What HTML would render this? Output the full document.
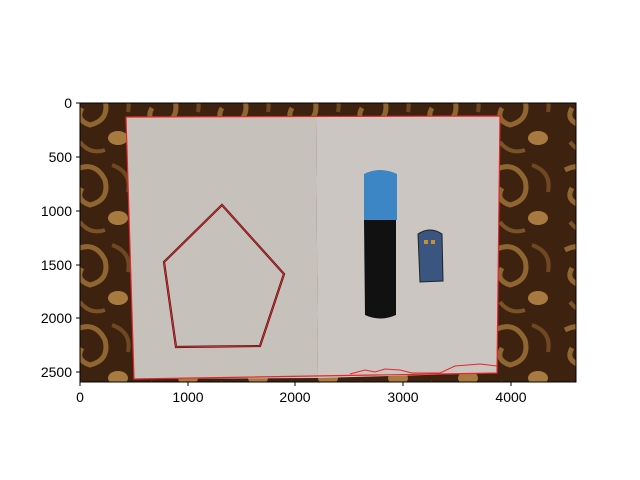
<!DOCTYPE html>
<html><head><meta charset="utf-8"><style>
body{margin:0;background:#fff;}
svg{display:block;font-family:"Liberation Sans","DejaVu Sans",sans-serif;}
</style></head><body>
<svg width="640" height="480" viewBox="0 0 640 480">
<defs>
<clipPath id="ax"><rect x="80" y="103" width="496" height="279"/></clipPath>
<pattern id="carpet" width="70" height="80" patternUnits="userSpaceOnUse">
<rect width="70" height="80" fill="#3e2210"/>
<path d="M5 10 Q25 0 35 20 Q40 40 20 45 Q5 40 12 28" fill="none" stroke="#8f6532" stroke-width="5"/>
<ellipse cx="48" cy="58" rx="10" ry="7" fill="#a77a40"/>
<path d="M42 5 Q62 12 58 32" fill="none" stroke="#6e4820" stroke-width="4"/>
<path d="M10 62 Q20 75 35 70" fill="none" stroke="#7a5428" stroke-width="4"/>
</pattern>
</defs>
<g clip-path="url(#ax)">
<rect x="80" y="103" width="496" height="279" fill="url(#carpet)"/>
<polygon points="126,117 316,117 318,378 134,379" fill="#c6c1bb"/>
<polygon points="316,117 500,116 497,373 318,378" fill="#cbc6c1"/>
<polygon points="126,117 500,116 497,373 134,379" fill="none" stroke="#e8262a" stroke-width="1.2"/>
<polyline points="350,374 365,370 375,372 385,369 400,370 412,373 440,373 455,366 480,364 497,366" fill="none" stroke="#e8262a" stroke-width="1"/>
<polygon points="222,205 284,274 260,346 176,347 164,262" fill="none" stroke="#3a1414" stroke-width="2.2"/>
<polygon points="222,205 284,274 260,346 176,347 164,262" fill="none" stroke="#e8262a" stroke-width="1"/>
<path d="M364,174 Q380,166 397,174 L397,220 L364,220 Z" fill="#3d86c6"/>
<path d="M364,220 L396,220 L396,315 Q380,322 365,315 Z" fill="#111"/>
<path d="M418,234 Q430,226 442,234 L443,281 L420,282 Z" fill="#3a5680" stroke="#222" stroke-width="1"/>
<rect x="424" y="240" width="4" height="4" fill="#c89030"/><rect x="431" y="240" width="4" height="4" fill="#c89030"/>
</g>
<rect x="80" y="103" width="496" height="279" fill="none" stroke="#000" stroke-width="1"/>
<g font-size="14" fill="#000">
<line x1="80" y1="382" x2="80" y2="386" stroke="#000"/><text x="80" y="402" text-anchor="middle">0</text>
<line x1="188" y1="382" x2="188" y2="386" stroke="#000"/><text x="188" y="402" text-anchor="middle">1000</text>
<line x1="295" y1="382" x2="295" y2="386" stroke="#000"/><text x="295" y="402" text-anchor="middle">2000</text>
<line x1="403" y1="382" x2="403" y2="386" stroke="#000"/><text x="403" y="402" text-anchor="middle">3000</text>
<line x1="511" y1="382" x2="511" y2="386" stroke="#000"/><text x="511" y="402" text-anchor="middle">4000</text>
</g>
<g font-size="14" fill="#000" text-anchor="end">
<line x1="76" y1="103" x2="80" y2="103" stroke="#000"/><text x="72" y="108">0</text>
<line x1="76" y1="157" x2="80" y2="157" stroke="#000"/><text x="72" y="162">500</text>
<line x1="76" y1="211" x2="80" y2="211" stroke="#000"/><text x="72" y="216">1000</text>
<line x1="76" y1="265" x2="80" y2="265" stroke="#000"/><text x="72" y="270">1500</text>
<line x1="76" y1="318" x2="80" y2="318" stroke="#000"/><text x="72" y="323">2000</text>
<line x1="76" y1="372" x2="80" y2="372" stroke="#000"/><text x="72" y="377">2500</text>
</g>
</svg>
</body></html>
